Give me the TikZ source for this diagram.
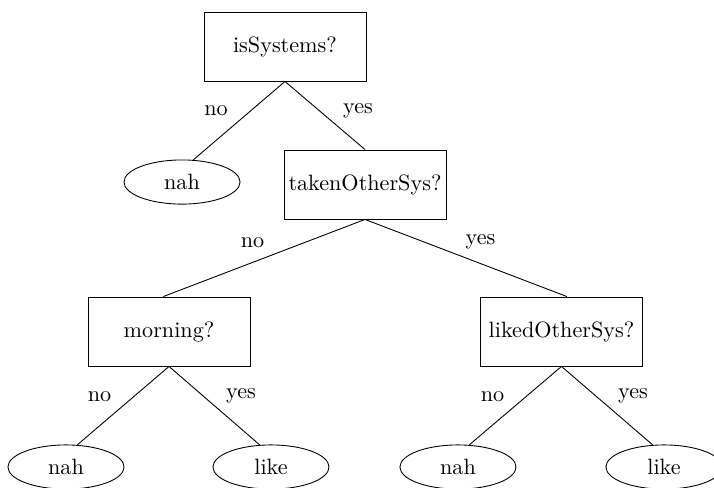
\documentclass[tikz,border=0pt]{standalone}
\usepackage{amsmath}
\usepackage{tikz}
\usetikzlibrary{shapes.geometric}
\tikzset{
    treenode/.style = {align=center, inner sep=1.5pt, text centered},
    node_test/.style = {treenode, rectangle, draw=black, fill=white, minimum width=2.568cm, minimum height=1.094cm},
    node_leaf/.style = {treenode, ellipse, draw=black, fill=white, minimum width=1.84cm, minimum height=0.70cm},
    node_lbl/.style = {treenode, inner sep=0pt}
}

\begin{document}
\begin{tikzpicture}
    \useasboundingbox (0,0) rectangle (11.317,-7.719);
    \node [node_test] (isSys) at (4.517,-0.737) {isSystems?}; % ROOT
    \node [node_leaf] (nah_a) at (2.885,-2.885) {nah};
    \node [node_test] (taken) at (5.785,-2.924) {takenOtherSys?};
    \node [node_test] (morning) at (2.679,-5.254) {morning?};
    \node [node_test] (liked) at (8.900,-5.254) {likedOtherSys?};
    \node [node_leaf] (nah_b) at (1.046,-7.402) {nah};
    \node [node_leaf] (like_b) at (4.295,-7.402) {like};
    \node [node_leaf] (nah_c) at (7.259,-7.402) {nah};
    \node [node_leaf] (like_c) at (10.524,-7.402) {like};
    % edges
    \draw (isSys.south) -- (nah_a.63);
    \draw (isSys.south) -- (taken.north);
    \draw (taken.south) -- ([xshift=-0.09cm]morning.north);
    \draw (taken.south) -- ([xshift=0.085cm]liked.north);
    \draw (morning.south) -- (nah_b.63);
    \draw (morning.south) -- (like_b.117);
    \draw (liked.south) -- (nah_c.63);
    \draw (liked.south) -- (like_c.117);
    % labels
    \node [node_lbl] (no_a) at (3.424,-1.759) {no};
    \node [node_lbl] (yes_a) at (5.674,-1.759) {yes};
    \node [node_lbl] (no_b) at (4.002,-3.852) {no};
    \node [node_lbl] (yes_b) at (7.616,-3.836) {yes};
    \node [node_lbl] (no_c) at (1.577,-6.285) {no};
    \node [node_lbl] (yes_c) at (3.820,-6.277) {yes};
    \node [node_lbl] (no_d) at (7.808,-6.292) {no};
    \node [node_lbl] (yes_d) at (10.033,-6.277) {yes};
\end{tikzpicture}
\end{document}
